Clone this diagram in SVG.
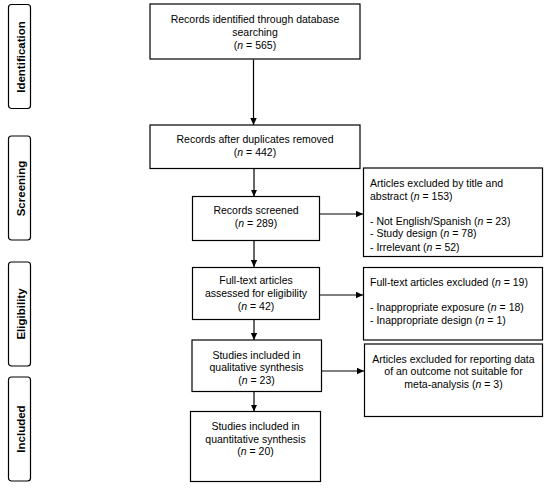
<svg xmlns="http://www.w3.org/2000/svg" width="550" height="489" viewBox="0 0 550 489">
<defs>
<marker id="ah" markerWidth="8" markerHeight="8" refX="7" refY="4" orient="auto" markerUnits="userSpaceOnUse">
<path d="M0,0.8 L7,4 L0,7.2 Z" fill="#000"/>
</marker>
</defs>
<style>
.box{fill:#fff;stroke:#000;stroke-width:1.2}
.side{fill:#fff;stroke:#000;stroke-width:1.2}
.t{font-family:"Liberation Sans",Arial,sans-serif;font-size:10.5px;fill:#000}
.c{text-anchor:middle}
.s{font-family:"Liberation Sans",Arial,sans-serif;font-size:11.5px;font-weight:bold;fill:#000;text-anchor:middle}
.ln{stroke:#000;stroke-width:1.2;fill:none;marker-end:url(#ah)}
</style>
<rect width="550" height="489" fill="#fff"/>
<g id="side-identification"><rect class="side" x="8.5" y="4.5" width="22" height="104" rx="3"/><text class="s" transform="translate(24.5,57) rotate(-90)">Identification</text></g>
<g id="side-screening"><rect class="side" x="8.5" y="136" width="22" height="104" rx="3"/><text class="s" transform="translate(24.5,188.5) rotate(-90)">Screening</text></g>
<g id="side-eligibility"><rect class="side" x="8.5" y="262" width="22" height="104" rx="3"/><text class="s" transform="translate(24.5,314) rotate(-90)">Eligibility</text></g>
<g id="side-included"><rect class="side" x="8.5" y="377" width="22" height="104" rx="3"/><text class="s" transform="translate(24.5,429) rotate(-90)">Included</text></g>
<g id="connectors">
<line class="ln" x1="253.5" y1="59.5" x2="253.5" y2="125"/>
<line class="ln" x1="254" y1="168.5" x2="254" y2="196.5"/>
<line class="ln" x1="254" y1="240.5" x2="254" y2="267"/>
<line class="ln" x1="254" y1="319.5" x2="254" y2="340"/>
<line class="ln" x1="254" y1="391.5" x2="254" y2="411.5"/>
<line class="ln" x1="319.5" y1="214" x2="363" y2="214"/>
<line class="ln" x1="319.5" y1="295" x2="363" y2="295"/>
<line class="ln" x1="321.5" y1="371" x2="364" y2="371"/>
</g>
<g id="n1"><rect class="box" x="150" y="4" width="210" height="55"/>
<text class="t c" x="255" y="22.5">Records identified through database</text>
<text class="t c" x="255" y="35.5">searching</text>
<text class="t c" x="255" y="48.5">(<tspan font-style="italic">n</tspan> = 565)</text></g>
<g id="n2"><rect class="box" x="150" y="125" width="210" height="43.5"/>
<text class="t c" x="255" y="142.5">Records after duplicates removed</text>
<text class="t c" x="255" y="155.5">(<tspan font-style="italic">n</tspan> = 442)</text></g>
<g id="n3"><rect class="box" x="192.5" y="196.5" width="127" height="44"/>
<text class="t c" x="256" y="214">Records screened</text>
<text class="t c" x="256" y="227">(<tspan font-style="italic">n</tspan> = 289)</text></g>
<g id="n4"><rect class="box" x="192.5" y="267.5" width="127" height="52"/>
<text class="t c" x="256" y="284">Full-text articles</text>
<text class="t c" x="256" y="297">assessed for eligibility</text>
<text class="t c" x="256" y="310">(<tspan font-style="italic">n</tspan> = 42)</text></g>
<g id="n5"><rect class="box" x="192" y="340" width="129.5" height="51.5"/>
<text class="t c" x="256.5" y="358.5">Studies included in</text>
<text class="t c" x="256.5" y="371">qualitative synthesis</text>
<text class="t c" x="256.5" y="383.5">(<tspan font-style="italic">n</tspan> = 23)</text></g>
<g id="n6"><rect class="box" x="190.5" y="411.5" width="130" height="70"/>
<text class="t c" x="255.5" y="430">Studies included in</text>
<text class="t c" x="255.5" y="442.5">quantitative synthesis</text>
<text class="t c" x="255.5" y="455">(<tspan font-style="italic">n</tspan> = 20)</text></g>
<g id="e1"><rect class="box" x="363.5" y="168" width="179" height="88.5"/>
<text class="t" x="370" y="187">Articles excluded by title and</text>
<text class="t" x="370" y="200">abstract (<tspan font-style="italic">n</tspan> = 153)</text>
<text class="t" x="370" y="224.5">- Not English/Spanish (<tspan font-style="italic">n</tspan> = 23)</text>
<text class="t" x="370" y="237">- Study design (<tspan font-style="italic">n</tspan> = 78)</text>
<text class="t" x="370" y="250.5">- Irrelevant (<tspan font-style="italic">n</tspan> = 52)</text></g>
<g id="e2"><rect class="box" x="363.5" y="267.5" width="179" height="72.5"/>
<text class="t" x="370" y="285.5">Full-text articles excluded (<tspan font-style="italic">n</tspan> = 19)</text>
<text class="t" x="370" y="310.5">- Inappropriate exposure (<tspan font-style="italic">n</tspan> = 18)</text>
<text class="t" x="370" y="323.5">- Inappropriate design (<tspan font-style="italic">n</tspan> = 1)</text></g>
<g id="e3"><rect class="box" x="364.5" y="344" width="178" height="72.5"/>
<text class="t c" x="453.5" y="362.5">Articles excluded for reporting data</text>
<text class="t c" x="453.5" y="375">of an outcome not suitable for</text>
<text class="t c" x="453.5" y="387.5">meta-analysis (<tspan font-style="italic">n</tspan> = 3)</text></g>
</svg>
